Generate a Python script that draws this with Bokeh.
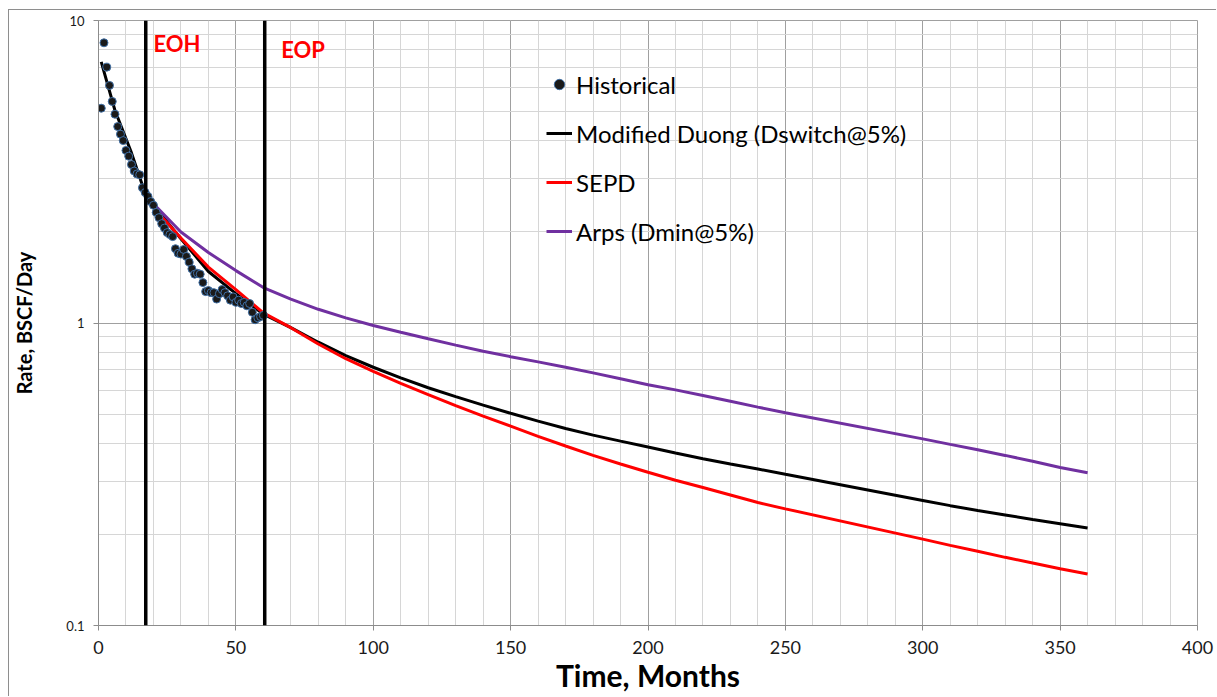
from bokeh.plotting import figure
from bokeh.models import (Span, Label, Legend, LegendItem, SingleIntervalTicker,
                          FixedTicker, CustomJSTickFormatter)
from bokeh.embed import file_html
from bokeh.resources import INLINE

# ---- data -------------------------------------------------------------
hist_month = list(range(1, 61))
hist_rate = [5.13, 8.44, 7.01, 6.10, 5.40, 4.90, 4.46, 4.21, 4.01, 3.72,
             3.56, 3.34, 3.18, 3.11, 3.09, 2.80, 2.70, 2.62, 2.52, 2.45,
             2.32, 2.23, 2.13, 2.06, 1.99, 1.96, 1.93, 1.76, 1.70, 1.69,
             1.75, 1.66, 1.59, 1.51, 1.45, 1.46, 1.45, 1.36, 1.27, 1.28,
             1.26, 1.26, 1.20, 1.25, 1.29, 1.26, 1.23, 1.19, 1.22, 1.17,
             1.19, 1.16, 1.17, 1.14, 1.16, 1.085, 1.025, 1.04, 1.05, 1.06]

duong_month = [1, 6, 12, 17, 20, 30, 40, 50, 60, 70, 80, 90, 100, 110, 120,
               130, 140, 150, 160, 170, 180, 190, 200, 210, 220, 230, 240,
               250, 300, 310, 320, 330, 340, 350, 360]
duong_rate = [7.3, 5.04, 3.65, 2.68, 2.45, 1.90, 1.48, 1.25, 1.07, 0.965,
              0.864, 0.78, 0.714, 0.659, 0.611, 0.571, 0.535, 0.503, 0.474,
              0.448, 0.426, 0.407, 0.389, 0.372, 0.356, 0.342, 0.329, 0.316,
              0.259, 0.249, 0.240, 0.232, 0.224, 0.217, 0.210]

sepd_month = [18, 21, 30, 40, 50, 60, 70, 80, 90, 100, 110, 120, 130, 140,
              150, 160, 170, 180, 190, 200, 210, 220, 230, 240, 250, 300,
              310, 320, 330, 340, 350, 360]
sepd_rate = [2.60, 2.35, 1.91, 1.53, 1.29, 1.08, 0.965, 0.852, 0.762, 0.692,
             0.632, 0.58, 0.533, 0.492, 0.456, 0.422, 0.392, 0.365, 0.342,
             0.321, 0.302, 0.286, 0.270, 0.255, 0.243, 0.193, 0.184, 0.176,
             0.168, 0.161, 0.154, 0.148]

arps_month = [18, 20, 30, 40, 50, 60, 70, 80, 90, 100, 110, 120, 130, 140,
              150, 160, 170, 180, 190, 200, 210, 220, 230, 240, 250, 300,
              310, 320, 330, 340, 350, 360]
arps_rate = [2.60, 2.48, 2.0, 1.71, 1.49, 1.31, 1.20, 1.11, 1.04, 0.981,
             0.932, 0.887, 0.845, 0.807, 0.774, 0.744, 0.714, 0.684, 0.654,
             0.625, 0.601, 0.576, 0.551, 0.527, 0.505, 0.414, 0.397, 0.381,
             0.365, 0.349, 0.333, 0.32]

rate_ticks = [0.1, 1, 10]
rate_minor = [0.2, 0.3, 0.4, 0.5, 0.6, 0.7, 0.8, 0.9,
              2, 3, 4, 5, 6, 7, 8, 9]

eoh_month = 17.2
eop_month = 60.5

FONT = "Lato"

# ---- figure -------------------------------------------------------------
p = figure(width=1208, height=687, x_range=(0, 400), y_range=(0.1, 10),
           y_axis_type="log", output_backend="svg", toolbar_location=None,
           min_border_left=89, min_border_right=20, min_border_top=10,
           min_border_bottom=72,
           styles={"margin-left": "8px", "margin-top": "9px",
                   "border-left": "1px solid #8e8e8e",
                   "border-top": "1px solid #8e8e8e"})
p.outline_line_color = "#a0a0a0"
p.background_fill_color = "white"
p.border_fill_color = "white"

# grids: major every 50 months / decade, minor every 10 months / 2..9
p.xaxis.ticker = SingleIntervalTicker(interval=50, num_minor_ticks=5)
p.yaxis.ticker = FixedTicker(ticks=rate_ticks, minor_ticks=rate_minor)
for g in (p.xgrid, p.ygrid):
    g.grid_line_color = "#a0a0a0"
    g.grid_line_width = 1
    g.minor_grid_line_color = "#d6d6d6"
    g.minor_grid_line_width = 1

for ax in (p.xaxis, p.yaxis):
    ax.axis_line_color = "#8c8c8c"
    ax.major_tick_line_color = "#8c8c8c"
    ax.major_tick_out = 5
    ax.major_tick_in = 0
    ax.minor_tick_out = 0
    ax.minor_tick_in = 0
    ax.major_label_text_font = FONT
    ax.major_label_text_color = "#1a1a1a"
    ax.axis_label_text_font = FONT
    ax.axis_label_text_font_style = "bold"
    ax.axis_label_text_color = "#000000"

p.yaxis.formatter = CustomJSTickFormatter(
    code="return String(Number(tick.toPrecision(3)));")
p.yaxis.major_label_text_font_size = "13px"
p.yaxis.major_label_standoff = 9
p.yaxis.axis_label = "Rate, BSCF/Day"
p.yaxis.axis_label_text_font_size = "20px"
p.yaxis.axis_label_standoff = 27

p.xaxis.major_label_text_font_size = "18px"
p.xaxis.major_label_standoff = 10
p.xaxis.axis_label = "Time, Months"
p.xaxis.axis_label_text_font_size = "30px"
p.xaxis.axis_label_standoff = 0

# ---- series -------------------------------------------------------------
r_duong = p.line(duong_month, duong_rate, line_color="black", line_width=3)
r_sepd = p.line(sepd_month, sepd_rate, line_color="#ff0000", line_width=3)
r_arps = p.line(arps_month, arps_rate, line_color="#7030a0", line_width=3)
r_hist = p.scatter(hist_month, hist_rate, size=8, marker="circle",
                   fill_color="#1a1a1a", line_color="#3f6fa5", line_width=1)

# end-of-history / end-of-prediction markers
for m in (eoh_month, eop_month):
    p.add_layout(Span(location=m, dimension="height", line_color="black",
                      line_width=3.5))
p.add_layout(Label(x=20, y=7.55, text="EOH", text_color="#ff0000",
                   text_font=FONT, text_font_style="bold",
                   text_font_size="22px"))
p.add_layout(Label(x=66.5, y=7.25, text="EOP", text_color="#ff0000",
                   text_font=FONT, text_font_style="bold",
                   text_font_size="22px"))

legend = Legend(items=[
    LegendItem(label="Historical", renderers=[r_hist]),
    LegendItem(label="Modified Duong (Dswitch@5%)", renderers=[r_duong]),
    LegendItem(label="SEPD", renderers=[r_sepd]),
    LegendItem(label="Arps (Dmin@5%)", renderers=[r_arps]),
], location=(448, 379), padding=0, margin=0, spacing=19,
    glyph_width=26, glyph_height=30, label_height=30, label_standoff=4,
    label_text_font=FONT, label_text_font_size="24px",
    label_text_color="#000000", border_line_color=None,
    background_fill_alpha=0)
p.add_layout(legend)

open("out.html", "w").write(file_html(p, INLINE))
